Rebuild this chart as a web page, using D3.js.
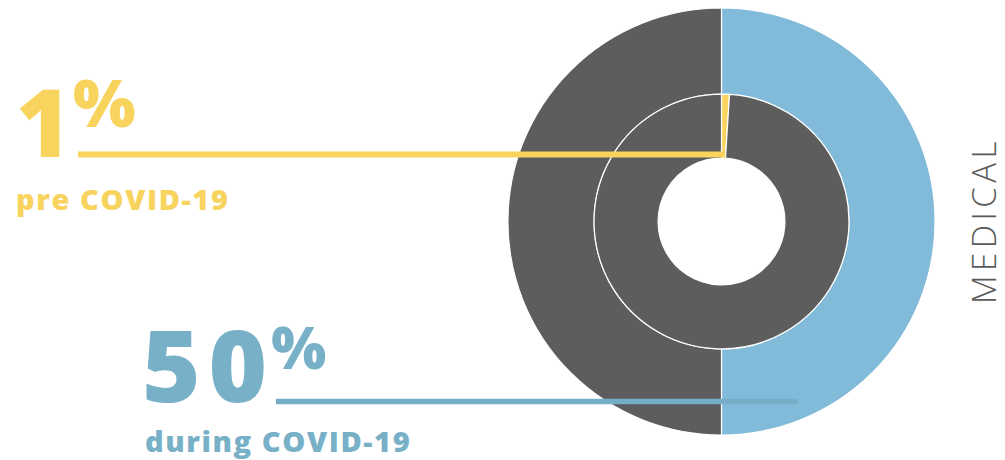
<!DOCTYPE html>
<html lang="en">
<head>
<meta charset="UTF-8">
<title>Medical donut</title>
<script src="https://d3js.org/d3.v7.min.js"></script>
<style>
body{margin:0; background:#fff;}
svg{display:block;}
</style>
</head>
<body>
<div class="chart"></div>
<script>
// data
var category = "MEDICAL";
var ringLabels = ["during COVID-19", "pre COVID-19"];
var outerValues = [50, 50];   // during: share, rest
var innerValues = [1, 99];    // pre: share, rest
var outerColors = ["#82bad9", "#5d5d5d"];
var innerColors = ["#f8d35d", "#5d5d5d"];

var w = 1005, h = 460;
var cx = 721.5, cy = 221.5;

var svg = d3.select(".chart").append("svg")
	.attr("width", w)
	.attr("height", h);

var pie = d3.pie().sort(null);
var rScale = d3.scaleLinear().domain([0, 1]).range([0, 213.5]);

var outerArc = d3.arc().innerRadius(rScale(0.597)).outerRadius(rScale(1));
var innerArc = d3.arc().innerRadius(rScale(0.297)).outerRadius(rScale(0.597));

var g = svg.append("g").attr("transform", "translate(" + cx + "," + cy + ")");

g.selectAll("path.outer")
	.data(pie(outerValues))
	.enter()
	.append("path")
	.attr("class", "outer")
	.attr("d", outerArc)
	.attr("fill", function(d, i){ return outerColors[i]; })
	.attr("stroke", "#fff")
	.attr("stroke-width", 1.2);

g.selectAll("path.inner")
	.data(pie(innerValues))
	.enter()
	.append("path")
	.attr("class", "inner")
	.attr("d", innerArc)
	.attr("fill", function(d, i){ return innerColors[i]; })
	.attr("stroke", "#fff")
	.attr("stroke-width", 1.2);

// leader lines
svg.append("line")
	.attr("x1", 78).attr("x2", cx + 3)
	.attr("y1", 154.5).attr("y2", 154.5)
	.attr("stroke", innerColors[0])
	.attr("stroke-width", 6);

svg.append("line")
	.attr("x1", 276).attr("x2", 798)
	.attr("y1", 401.5).attr("y2", 401.5)
	.attr("stroke", "#76aec7")
	.attr("stroke-width", 5.5);

// big numbers
var font = "'Open Sans', Lato, sans-serif";

var t1 = svg.append("text")
	.attr("x", 16).attr("y", 157)
	.attr("font-family", font)
	.attr("font-weight", 800)
	.attr("fill", innerColors[0]);
t1.append("tspan").attr("font-size", 94).text(innerValues[0]);
t1.append("tspan").attr("font-size", 66).attr("dx", 2).attr("dy", -30).text("%");

var t2 = svg.append("text")
	.attr("x", 142).attr("y", 402)
	.attr("font-family", font)
	.attr("font-weight", 800)
	.attr("fill", "#78b0c8");
t2.append("tspan").attr("font-size", 100).attr("letter-spacing", 8).text(outerValues[0]);
t2.append("tspan").attr("font-size", 58).attr("dx", -4).attr("dy", -33).text("%");

svg.append("text")
	.attr("x", 16).attr("y", 210)
	.attr("font-family", font)
	.attr("font-weight", 800)
	.attr("font-size", 29)
	.attr("letter-spacing", 1.6)
	.attr("fill", innerColors[0])
	.text(ringLabels[1]);

svg.append("text")
	.attr("x", 145).attr("y", 452)
	.attr("font-family", font)
	.attr("font-weight", 800)
	.attr("font-size", 29)
	.attr("letter-spacing", 1.6)
	.attr("fill", "#78b0c8")
	.text(ringLabels[0]);

svg.append("text")
	.attr("transform", "translate(996," + (cy - 1) + ") rotate(-90)")
	.attr("text-anchor", "middle")
	.attr("font-family", font)
	.attr("font-weight", 300)
	.attr("font-size", 33)
	.attr("letter-spacing", 4.5)
	.attr("fill", "#5a5a5a")
	.text(category);
</script>
</body>
</html>
